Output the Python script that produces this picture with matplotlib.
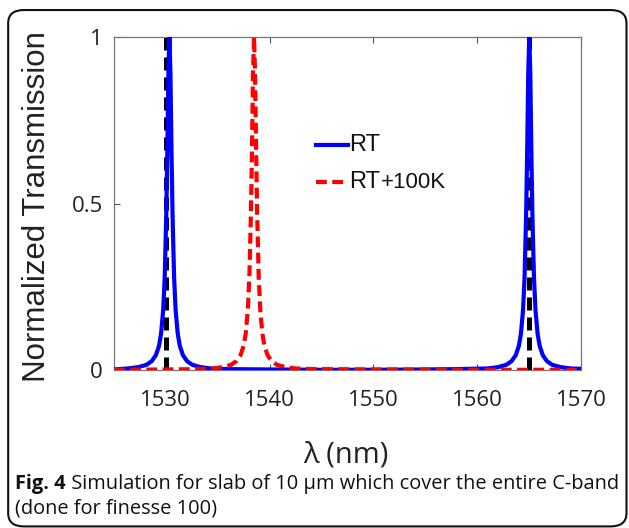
import numpy as np
import matplotlib
matplotlib.use('Agg')
import matplotlib.pyplot as plt
from matplotlib.patches import FancyBboxPatch

# ---- data ----
# RT (blue) : two resonances near 1530.35 and 1565 nm
rt_x = [1525, 1526.35, 1527.35, 1528.15, 1528.65, 1529.05, 1529.35, 1529.55,
        1529.75, 1529.9, 1530.05, 1530.15, 1530.25, 1530.35, 1530.45, 1530.55,
        1530.65, 1530.8, 1530.95, 1531.15, 1531.35, 1531.65, 1532.05, 1532.55,
        1533.35, 1534.35, 1536, 1540, 1545, 1550, 1555, 1558, 1561, 1562,
        1562.8, 1563.3, 1563.7, 1564.0, 1564.2, 1564.4, 1564.55, 1564.7, 1564.8,
        1564.9, 1565.0, 1565.1, 1565.2, 1565.3, 1565.45, 1565.6, 1565.8, 1566.0,
        1566.3, 1566.7, 1567.2, 1568.0, 1569.0, 1570]
rt_y = [0.002, 0.005, 0.009, 0.016, 0.027, 0.045, 0.073, 0.11,
        0.18, 0.28, 0.47, 0.66, 0.89, 1.0, 0.89, 0.66,
        0.47, 0.28, 0.18, 0.11, 0.073, 0.045, 0.027, 0.016,
        0.009, 0.005, 0.003, 0.002, 0.001, 0.001, 0.002, 0.003, 0.005, 0.009,
        0.016, 0.027, 0.045, 0.073, 0.11, 0.18, 0.28, 0.47, 0.66,
        0.89, 1.0, 0.89, 0.66, 0.47, 0.28, 0.18, 0.11, 0.073,
        0.045, 0.027, 0.016, 0.009, 0.005, 0.004]

# RT+100K (red dashed) : resonance near 1538.5 nm
hot_x = [1525, 1530, 1533.5, 1534.5, 1535.5, 1536.3, 1536.8, 1537.2, 1537.5,
         1537.7, 1537.9, 1538.05, 1538.2, 1538.3, 1538.4, 1538.5, 1538.6,
         1538.7, 1538.8, 1538.95, 1539.1, 1539.3, 1539.5, 1539.8, 1540.2,
         1540.7, 1541.5, 1542.5, 1544, 1550, 1560, 1570]
hot_y = [0.001, 0.002, 0.003, 0.005, 0.009, 0.016, 0.027, 0.045, 0.073,
         0.11, 0.18, 0.28, 0.47, 0.66, 0.89, 1.0, 0.89,
         0.66, 0.47, 0.28, 0.18, 0.11, 0.073, 0.045, 0.027,
         0.016, 0.009, 0.005, 0.003, 0.002, 0.001, 0.001]

# reference wavelengths (black dashed)
ref_lines = [1530.0, 1565.0]

x_ticks = [1530, 1540, 1550, 1560, 1570]
y_ticks = [0, 0.5, 1]
y_ticklabels = ['0', '0.5', '1']

fig = plt.figure(figsize=(6.29, 5.28), dpi=100)
ax = fig.add_axes([0.181, 0.299, 0.743, 0.631])

for xr in ref_lines:
    ax.plot([xr, xr], [0, 1], color='k', lw=3.6, ls=(0, (2.6, 1.4)), zorder=2)
ax.plot(rt_x, rt_y, color='#0000ff', lw=3.0, zorder=3)
ax.plot(hot_x, hot_y, color='#ff0000', lw=3.0, ls=(0, (2.6, 1.3)), zorder=4)

ax.set_xlim(1525, 1570)
ax.set_ylim(0, 1)
ax.set_xticks(x_ticks)
ax.set_yticks(y_ticks)
ax.set_yticklabels(y_ticklabels)
ax.tick_params(direction='in', length=4, width=0.8, color='#555555',
               top=True, right=False, labelsize=16, labelcolor='#222222')
ax.tick_params(axis='x', pad=14)
ax.tick_params(axis='y', pad=8)
for lab in ax.get_xticklabels() + ax.get_yticklabels():
    lab.set_family('Open Sans')
for s in ax.spines.values():
    s.set_color('#777777')
    s.set_linewidth(0.9)

ax.set_ylabel('Normalized Transmission', family='Liberation Sans', fontsize=22.5,
              color='#222222')
ax.yaxis.set_label_coords(-0.132, 0.49)
ax.set_xlabel('λ (nm)', family='Open Sans', fontsize=21, color='#222222')
ax.xaxis.set_label_coords(0.496, -0.21)

# legend drawn by hand (mixed font sizes in the second entry)
tr = ax.transAxes
ax.plot([0.432, 0.50], [0.676, 0.676], color='#0000ff', lw=3.0, transform=tr,
        clip_on=False)
ax.plot([0.432, 0.50], [0.565, 0.565], color='#ff0000', lw=3.0,
        ls=(0, (2.6, 1.3)), transform=tr, clip_on=False)
ax.text(0.504, 0.676, 'RT', transform=tr, family='Liberation Sans',
        fontsize=17, va='center', ha='left', color='#111111')
t1 = ax.text(0.504, 0.565, 'RT', transform=tr, family='Liberation Sans',
             fontsize=17, va='center', ha='left', color='#111111')
ax.annotate('+100K', xy=(1, 0), xycoords=t1, xytext=(0, 0),
            textcoords='offset points', va='bottom', ha='left',
            family='Liberation Sans', fontsize=16, color='#111111')

# caption
c1 = fig.text(0.024, 0.074, 'Fig. 4', family='Open Sans', weight='bold',
              fontsize=14.4, color='#111111', va='baseline')
fig.text(0.024, 0.028, '(done for finesse 100)', family='Open Sans',
         fontsize=14.4, color='#111111', va='baseline')
ax.annotate(' Simulation for slab of 10 µm which cover the entire C-band',
            xy=(1, 0), xycoords=c1, va='bottom', ha='left', family='Open Sans',
            fontsize=14.4, color='#111111', annotation_clip=False)

# rounded frame around the figure
box = FancyBboxPatch((0.013, 0.003), 0.983, 0.978,
                     boxstyle='round,pad=0,rounding_size=0.025',
                     transform=fig.transFigure, fill=False, ec='#111111', lw=1.5,
                     clip_on=False)
fig.patches.append(box)

fig.savefig('out.png', dpi=100)
